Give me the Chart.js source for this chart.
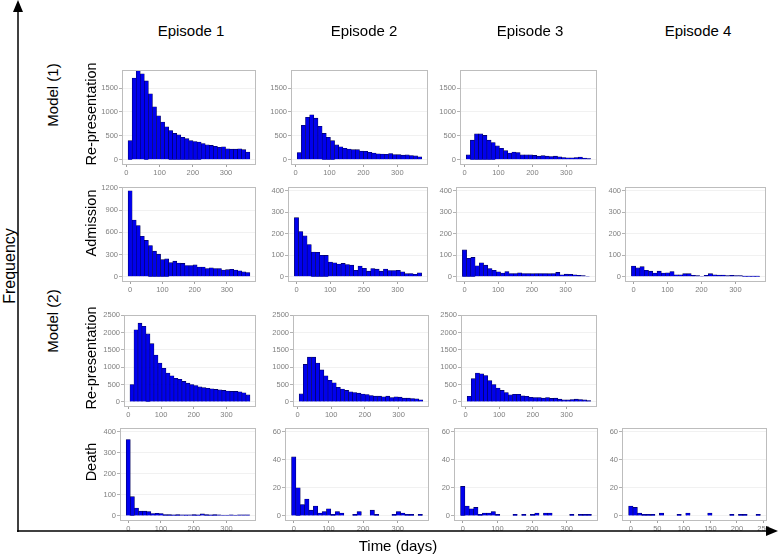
<!DOCTYPE html>
<html><head><meta charset="utf-8">
<script src="https://cdn.jsdelivr.net/npm/chart.js@4"></script>
<style>
body{margin:0;background:#fff;width:778px;height:555px;overflow:hidden;position:relative;font-family:"Liberation Sans",Arial,sans-serif;}
canvas{position:absolute;}
.lbl{position:absolute;white-space:nowrap;color:#000;transform:translate(-50%,-50%);line-height:1;}
.rot{transform:translate(-50%,-50%) rotate(-90deg);}
svg{position:absolute;left:0;top:0;}
</style></head><body>
<script>
// ---- labels ----
const episodes = ['Episode 1','Episode 2','Episode 3','Episode 4'];
const rowLabels = ['Re-presentation','Admission','Re-presentation','Death'];
const modelLabels = ['Model (1)','Model (2)'];
const yTitle = 'Frequency';
const xTitle = 'Time (days)';

// ---- tick labels ----
const xTicksDays = [0,100,200,300];
const xTicksDeath4 = [0,50,100,150,200,250];
const yTicksRep1 = [0,500,1000,1500];
const yTicksAdm1 = [0,300,600,900,1200];
const yTicksAdm = [0,100,200,300,400];
const yTicksRep2 = [0,500,1000,1500,2000,2500];
const yTicksDeath1 = [0,100,200,300,400];
const yTicksDeath = [0,20,40,60];

// ---- histogram counts (30 bins each) ----
const rep1Ep1 = [400,1710,1870,1800,1650,1380,1110,920,790,690,610,550,520,470,440,400,380,370,340,310,300,280,260,270,230,220,220,230,210,160];
const rep1Ep2 = [150,720,890,940,870,700,550,470,400,310,270,240,225,210,210,180,175,155,140,125,120,115,130,105,105,95,100,88,80,60];
const rep1Ep3 = [100,410,540,540,510,410,360,290,240,190,140,160,150,100,100,100,90,75,85,75,68,75,60,47,40,40,47,55,35,25];
const adm1 = [1160,765,690,545,490,420,345,305,230,240,190,210,185,180,150,150,160,130,130,110,120,110,110,90,95,100,90,80,65,56];
const adm2 = [275,210,190,150,115,114,100,99,68,65,59,62,57,54,30,50,39,26,38,35,26,36,29,29,30,23,14,15,11,18];
const adm3 = [125,86,90,51,65,54,38,30,23,17,24,15,15,18,15,15,14,15,15,15,14,15,20,9,12,11,9,6,5,2];
const adm4 = [50,41,47,30,26,17,26,17,18,24,9,9,14,14,6,5,2,6,14,9,8,8,5,6,5,5,3,3,3,3];
const rep2Ep1 = [500,2080,2270,2180,1960,1680,1350,1120,970,830,750,680,650,590,540,500,470,430,410,390,375,360,345,330,310,300,300,290,260,200];
const rep2Ep2 = [230,1080,1290,1290,1120,920,750,620,550,420,370,330,290,270,250,225,212,183,164,164,145,164,125,145,135,106,106,97,90,58];
const rep2Ep3 = [160,670,830,810,760,610,500,400,330,270,200,220,220,170,160,130,125,125,105,125,100,105,77,57,57,67,77,67,57,38];
const death1 = [363,91,37,22,22,20,11,12,11,6,6,5,6,4,5,4,6,5,9,6,5,6,4,3,3,4,3,4,4,4];
const death2 = [42,20,8,12,4,7,2,3,5,1,3,2,0,0,1,3,0,0,4,1,0,0,0,1,3,2,1,1,0,1];
const death3 = [21,7,5,6,1,2,2,3,1,0,0,0,1,0,1,0,1,2,0,2,2,0,0,0,0,1,0,1,1,1];
const death4 = [7,6,2,1,1,1,0,2,0,0,0,1,0,2,0,0,0,0,2,0,0,0,0,1,0,1,1,0,0,1];

// ---- bin definitions (days): first edge, width ----
const binsRep = [5, 12.23];
const binsDay = [-6.3, 12.586];
const binsDeath4 = [-4.14, 8.276];

// ---- layout ----
const rows = [[68,164],[185,281],[313,406],[426,520]];
const FONT = '"Liberation Sans", Arial, sans-serif';

const framePlugin = {
  id:'frame',
  afterDraw(ch){
    const a = ch.chartArea, ctx = ch.ctx;
    ctx.save();
    ctx.strokeStyle = '#bdbdbd'; ctx.lineWidth = 1;
    ctx.strokeRect(Math.round(a.left)+0.5, Math.round(a.top)+0.5, Math.round(a.right-a.left)-1, Math.round(a.bottom-a.top)-1);
    ctx.restore();
  }
};

function panel(l, r, row, counts, bins, xr, xt, yr, yt){
  const padL = 30, padT = 4, padR = 12, padB = 14;
  const t = rows[row][0], b = rows[row][1];
  const c = document.createElement('canvas');
  const W = r - l + padL + padR, H = b - t + padT + padB;
  c.width = W; c.height = H;
  c.style.left = (l - padL) + 'px'; c.style.top = (t - padT) + 'px';
  document.body.appendChild(c);
  const tickFont = {size:7.5, family:FONT};
  new Chart(c, {
    type:'bar',
    data:{datasets:[{
      data: counts.map((v,i)=>({x: bins[0] + bins[1]*(i+0.5), y: v})),
      backgroundColor:'#0000ee', borderColor:'#000050', borderWidth:0.6,
      barPercentage:1, categoryPercentage:1, borderSkipped:'start'
    }]},
    options:{
      responsive:false, animation:false, events:[],
      layout:{padding:{top:padT, right:padR, left:0, bottom:0}},
      plugins:{legend:{display:false}, tooltip:{enabled:false}},
      scales:{
        x:{type:'linear', min:xr[0], max:xr[1], offset:false,
           afterBuildTicks:s=>{s.ticks = xt.map(v=>({value:v}));},
           afterFit:s=>{s.height = padB;},
           grid:{offset:false, drawOnChartArea:false, tickLength:3, tickColor:'#a0a0a0', lineWidth:1},
           border:{display:false},
           ticks:{autoSkip:false, maxRotation:0, padding:1, color:'#7f7f7f', font:tickFont, callback:v=>String(v)}},
        y:{type:'linear', min:yr[0], max:yr[1],
           afterBuildTicks:s=>{s.ticks = yt.map(v=>({value:v}));},
           afterFit:s=>{s.width = padL;},
           grid:{color:'#ededed', lineWidth:0.8, tickLength:3, tickColor:'#a0a0a0'},
           border:{display:false},
           ticks:{padding:1, color:'#7f7f7f', font:tickFont, callback:v=>String(v)}}
      }
    },
    plugins:[framePlugin]
  });
}

const xRep = [-13.3, 390.3], xDay = [-25.2, 390.2], xD4 = [-16.6, 256.6];
// Model (1) Re-presentation
panel(122,256,0, rep1Ep1, binsRep, xRep, xTicksDays, [-90,1890], yTicksRep1);
panel(291,428,0, rep1Ep2, binsRep, xRep, xTicksDays, [-90,1890], yTicksRep1);
panel(460,597,0, rep1Ep3, binsRep, xRep, xTicksDays, [-90,1890], yTicksRep1);
// Admission
panel(122,256,1, adm1, binsDay, xDay, xTicksDays, [-58,1218], yTicksAdm1);
panel(288,428,1, adm2, binsDay, xDay, xTicksDays, [-20,420], yTicksAdm);
panel(456,596,1, adm3, binsDay, xDay, xTicksDays, [-20,420], yTicksAdm);
panel(625,766,1, adm4, binsDay, xDay, xTicksDays, [-20,420], yTicksAdm);
// Model (2) Re-presentation
panel(124,256,2, rep2Ep1, binsRep, xRep, xTicksDays, [-120,2520], yTicksRep2);
panel(293,429,2, rep2Ep2, binsRep, xRep, xTicksDays, [-120,2520], yTicksRep2);
panel(461,597,2, rep2Ep3, binsRep, xRep, xTicksDays, [-120,2520], yTicksRep2);
// Death
panel(120,256,3, death1, binsDay, xDay, xTicksDays, [-20,420], yTicksDeath1);
panel(285,429,3, death2, binsDay, xDay, xTicksDays, [-3,63], yTicksDeath);
panel(454,598,3, death3, binsDay, xDay, xTicksDays, [-3,63], yTicksDeath);
panel(622,767,3, death4, binsDeath4, xD4, xTicksDeath4, [-3,63], yTicksDeath);

// ---- text ----
function label(txt, x, y, size, rot){
  const d = document.createElement('div');
  d.className = 'lbl' + (rot ? ' rot' : '');
  d.textContent = txt;
  d.style.left = x + 'px'; d.style.top = y + 'px'; d.style.fontSize = size + 'px';
  document.body.appendChild(d);
}
[191,364,530,698].forEach((x,i)=>label(episodes[i], x, 30, 15));
[114,223,358,462].forEach((y,i)=>label(rowLabels[i], 91, y, 14.5, true));
label(modelLabels[0], 52, 95, 15, true);
label(modelLabels[1], 52, 321, 15, true);
label(yTitle, 10, 266, 16, true);
label(xTitle, 398, 545, 15);

// ---- axis arrows ----
const svgNS = 'http://www.w3.org/2000/svg';
const svg = document.createElementNS(svgNS,'svg');
svg.setAttribute('width','778'); svg.setAttribute('height','555');
svg.innerHTML = '<line x1="18" y1="532" x2="18" y2="8" stroke="#000" stroke-width="1.5"/>' +
  '<polygon points="18,0 13,12 23,12" fill="#000"/>' +
  '<line x1="17" y1="531" x2="768" y2="531" stroke="#000" stroke-width="1.5"/>' +
  '<polygon points="778,531 766,526 766,536" fill="#000"/>';
document.body.appendChild(svg);
</script>
</body></html>
